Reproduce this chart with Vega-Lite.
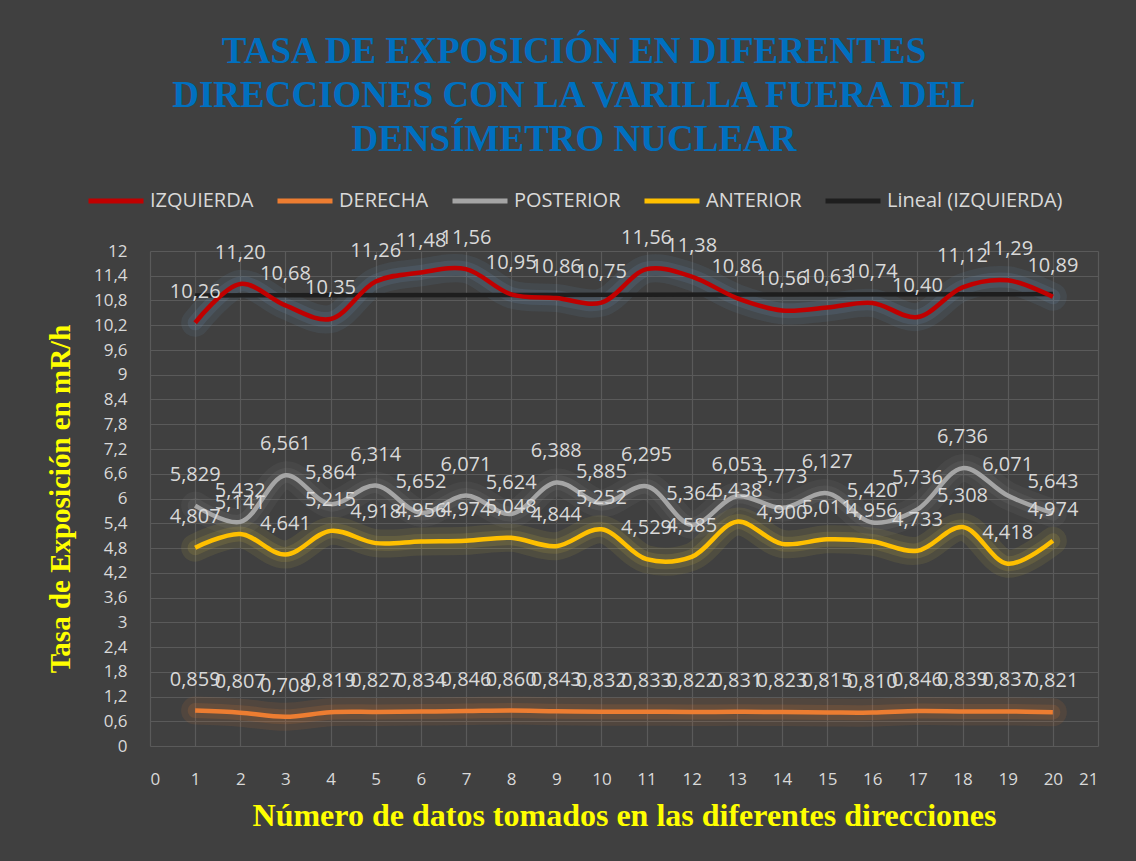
{
  "$schema": "https://vega.github.io/schema/vega-lite/v6.json",
  "width": 948,
  "height": 495,
  "autosize": {"type": "none"},
  "padding": {"left": 150, "top": 251, "right": 38, "bottom": 115},
  "background": "#404040",
  "title": {
    "text": ["TASA DE EXPOSICIÓN EN DIFERENTES", "DIRECCIONES CON LA VARILLA FUERA DEL", "DENSÍMETRO NUCLEAR"],
    "font": "Liberation Serif",
    "fontSize": 37,
    "fontWeight": "bold",
    "color": "#0070C0",
    "lineHeight": 44,
    "anchor": "middle",
    "dx": -50,
    "offset": 12
  },
  "config": {
    "locale": {"number": {"decimal": ",", "thousands": ".", "grouping": [3], "currency": ["", " €"]}},
    "view": {"stroke": null},
    "axis": {
      "gridColor": "#5A5A5A",
      "gridWidth": 1.2,
      "domain": false,
      "ticks": false,
      "labelColor": "#D9D9D9",
      "labelFont": "Open Sans",
      "labelFontSize": 17,
      "titleColor": "#FFFF00",
      "titleFont": "Liberation Serif",
      "titleFontWeight": "bold"
    }
  },
  "data": {
    "values": [
      {"x": 1, "s": "IZQUIERDA", "v": 10.26}, {"x": 2, "s": "IZQUIERDA", "v": 11.20}, {"x": 3, "s": "IZQUIERDA", "v": 10.68}, {"x": 4, "s": "IZQUIERDA", "v": 10.35}, {"x": 5, "s": "IZQUIERDA", "v": 11.26},
      {"x": 6, "s": "IZQUIERDA", "v": 11.48}, {"x": 7, "s": "IZQUIERDA", "v": 11.56}, {"x": 8, "s": "IZQUIERDA", "v": 10.95}, {"x": 9, "s": "IZQUIERDA", "v": 10.86}, {"x": 10, "s": "IZQUIERDA", "v": 10.75},
      {"x": 11, "s": "IZQUIERDA", "v": 11.56}, {"x": 12, "s": "IZQUIERDA", "v": 11.38}, {"x": 13, "s": "IZQUIERDA", "v": 10.86}, {"x": 14, "s": "IZQUIERDA", "v": 10.56}, {"x": 15, "s": "IZQUIERDA", "v": 10.63},
      {"x": 16, "s": "IZQUIERDA", "v": 10.74}, {"x": 17, "s": "IZQUIERDA", "v": 10.40}, {"x": 18, "s": "IZQUIERDA", "v": 11.12}, {"x": 19, "s": "IZQUIERDA", "v": 11.29}, {"x": 20, "s": "IZQUIERDA", "v": 10.89},
      {"x": 1, "s": "DERECHA", "v": 0.859}, {"x": 2, "s": "DERECHA", "v": 0.807}, {"x": 3, "s": "DERECHA", "v": 0.708}, {"x": 4, "s": "DERECHA", "v": 0.819}, {"x": 5, "s": "DERECHA", "v": 0.827},
      {"x": 6, "s": "DERECHA", "v": 0.834}, {"x": 7, "s": "DERECHA", "v": 0.846}, {"x": 8, "s": "DERECHA", "v": 0.860}, {"x": 9, "s": "DERECHA", "v": 0.843}, {"x": 10, "s": "DERECHA", "v": 0.832},
      {"x": 11, "s": "DERECHA", "v": 0.833}, {"x": 12, "s": "DERECHA", "v": 0.822}, {"x": 13, "s": "DERECHA", "v": 0.831}, {"x": 14, "s": "DERECHA", "v": 0.823}, {"x": 15, "s": "DERECHA", "v": 0.815},
      {"x": 16, "s": "DERECHA", "v": 0.810}, {"x": 17, "s": "DERECHA", "v": 0.846}, {"x": 18, "s": "DERECHA", "v": 0.839}, {"x": 19, "s": "DERECHA", "v": 0.837}, {"x": 20, "s": "DERECHA", "v": 0.821},
      {"x": 1, "s": "POSTERIOR", "v": 5.829}, {"x": 2, "s": "POSTERIOR", "v": 5.432}, {"x": 3, "s": "POSTERIOR", "v": 6.561}, {"x": 4, "s": "POSTERIOR", "v": 5.864}, {"x": 5, "s": "POSTERIOR", "v": 6.314},
      {"x": 6, "s": "POSTERIOR", "v": 5.652}, {"x": 7, "s": "POSTERIOR", "v": 6.071}, {"x": 8, "s": "POSTERIOR", "v": 5.624}, {"x": 9, "s": "POSTERIOR", "v": 6.388}, {"x": 10, "s": "POSTERIOR", "v": 5.885},
      {"x": 11, "s": "POSTERIOR", "v": 6.295}, {"x": 12, "s": "POSTERIOR", "v": 5.364}, {"x": 13, "s": "POSTERIOR", "v": 6.053}, {"x": 14, "s": "POSTERIOR", "v": 5.773}, {"x": 15, "s": "POSTERIOR", "v": 6.127},
      {"x": 16, "s": "POSTERIOR", "v": 5.420}, {"x": 17, "s": "POSTERIOR", "v": 5.736}, {"x": 18, "s": "POSTERIOR", "v": 6.736}, {"x": 19, "s": "POSTERIOR", "v": 6.071}, {"x": 20, "s": "POSTERIOR", "v": 5.643},
      {"x": 1, "s": "ANTERIOR", "v": 4.807}, {"x": 2, "s": "ANTERIOR", "v": 5.141}, {"x": 3, "s": "ANTERIOR", "v": 4.641}, {"x": 4, "s": "ANTERIOR", "v": 5.215}, {"x": 5, "s": "ANTERIOR", "v": 4.918},
      {"x": 6, "s": "ANTERIOR", "v": 4.956}, {"x": 7, "s": "ANTERIOR", "v": 4.974}, {"x": 8, "s": "ANTERIOR", "v": 5.048}, {"x": 9, "s": "ANTERIOR", "v": 4.844}, {"x": 10, "s": "ANTERIOR", "v": 5.252},
      {"x": 11, "s": "ANTERIOR", "v": 4.529}, {"x": 12, "s": "ANTERIOR", "v": 4.585}, {"x": 13, "s": "ANTERIOR", "v": 5.438}, {"x": 14, "s": "ANTERIOR", "v": 4.900}, {"x": 15, "s": "ANTERIOR", "v": 5.011},
      {"x": 16, "s": "ANTERIOR", "v": 4.956}, {"x": 17, "s": "ANTERIOR", "v": 4.733}, {"x": 18, "s": "ANTERIOR", "v": 5.308}, {"x": 19, "s": "ANTERIOR", "v": 4.418}, {"x": 20, "s": "ANTERIOR", "v": 4.974}
    ]
  },
  "encoding": {
    "x": {
      "field": "x", "type": "quantitative",
      "scale": {"domain": [0, 21], "nice": false, "zero": false},
      "axis": {"values": [0,1,2,3,4,5,6,7,8,9,10,11,12,13,14,15,16,17,18,19,20,21], "labelPadding": 25, "title": "Número de datos tomados en las diferentes direcciones", "titleFontSize": 32, "titlePadding": 13}
    },
    "y": {
      "field": "v", "type": "quantitative",
      "scale": {"domain": [0, 12], "nice": false},
      "axis": {"values": [0,0.6,1.2,1.8,2.4,3,3.6,4.2,4.8,5.4,6,6.6,7.2,7.8,8.4,9,9.6,10.2,10.8,11.4,12], "format": ".1~f", "labelPadding": 23, "title": "Tasa de Exposición en mR/h", "titleFontSize": 29, "titlePadding": 18}
    }
  },
  "layer": [
    {
      "mark": {"type": "line", "interpolate": "catmull-rom", "strokeWidth": 28, "strokeOpacity": 0.1, "strokeCap": "round"},
      "encoding": {
        "detail": {"field": "s"},
        "stroke": {"field": "s", "scale": {"domain": ["IZQUIERDA", "DERECHA", "POSTERIOR", "ANTERIOR"], "range": ["#6E9AC8", "#ED7D31", "#8A8A8A", "#D9C040"]}, "legend": null}
      }
    },
    {
      "mark": {"type": "line", "interpolate": "catmull-rom", "strokeWidth": 15, "strokeOpacity": 0.14, "strokeCap": "round"},
      "encoding": {
        "detail": {"field": "s"},
        "stroke": {"field": "s", "legend": null}
      }
    },
    {
      "transform": [
        {"filter": "datum.s === 'IZQUIERDA'"},
        {"regression": "v", "on": "x", "method": "linear", "extent": [1, 20]},
        {"calculate": "'Lineal (IZQUIERDA)'", "as": "s"}
      ],
      "mark": {"type": "line", "strokeWidth": 4.5},
      "encoding": {"color": {"field": "s"}}
    },
    {
      "mark": {"type": "line", "interpolate": "catmull-rom", "strokeWidth": 4.5},
      "encoding": {
        "color": {
          "field": "s",
          "scale": {"domain": ["IZQUIERDA", "DERECHA", "POSTERIOR", "ANTERIOR", "Lineal (IZQUIERDA)"], "range": ["#C00000", "#ED7D31", "#A5A5A5", "#FFC000", "#1E1E1E"]},
          "legend": {
            "title": null,
            "orient": "none",
            "direction": "horizontal",
            "legendX": -64,
            "legendY": -80,
            "symbolType": "stroke",
            "symbolSize": 3025,
            "symbolStrokeWidth": 5,
            "labelColor": "#D9D9D9",
            "labelFont": "Open Sans",
            "labelFontSize": 20,
            "columnPadding": 13,
            "labelOffset": 4,
            "labelLimit": 300
          }
        }
      }
    },
    {
      "transform": [{"filter": "datum.s === 'IZQUIERDA'"}],
      "mark": {"type": "text", "dy": -31, "baseline": "middle", "color": "#D9D9D9", "font": "Open Sans", "fontSize": 20},
      "encoding": {"text": {"field": "v", "type": "quantitative", "format": ".2f"}}
    },
    {
      "transform": [{"filter": "datum.s !== 'IZQUIERDA'"}],
      "mark": {"type": "text", "dy": -31, "baseline": "middle", "color": "#D9D9D9", "font": "Open Sans", "fontSize": 20},
      "encoding": {"text": {"field": "v", "type": "quantitative", "format": ".3f"}}
    }
  ]
}
